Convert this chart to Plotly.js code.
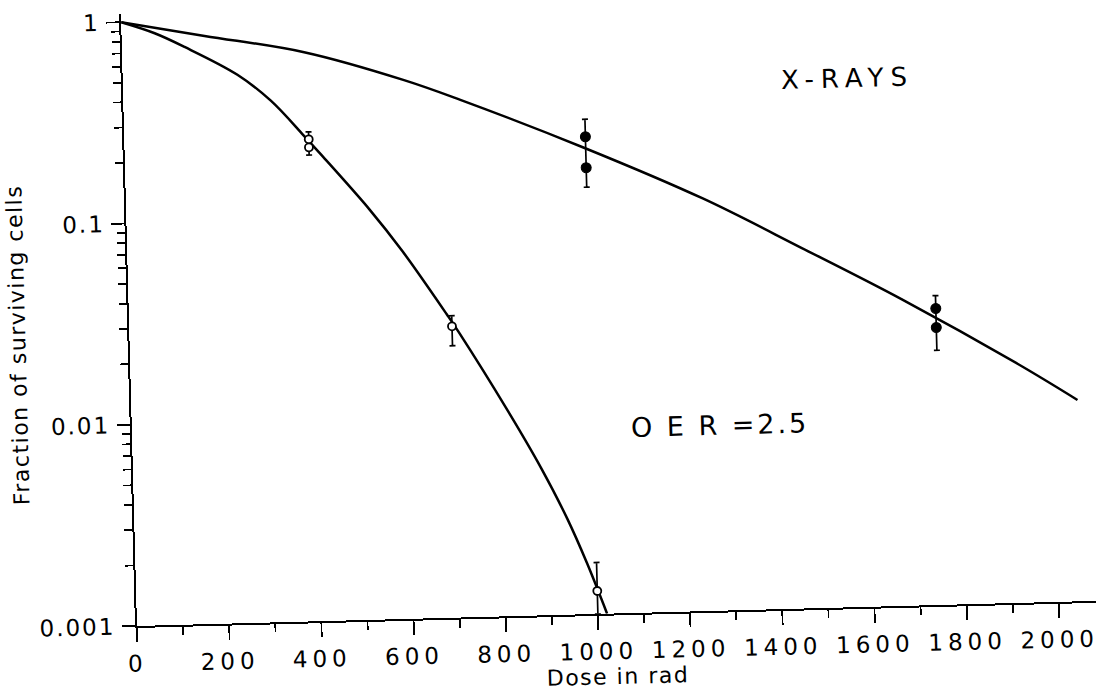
<!DOCTYPE html>
<html>
<head>
<meta charset="utf-8">
<script src="https://cdn.plot.ly/plotly-3.0.1.min.js"></script>
<style>
  html, body { margin: 0; padding: 0; background: #fff; overflow: hidden; width: 1107px; height: 692px; }
  #chart { width: 1107px; height: 730px; transform-origin: 136.5px 626.5px; transform: rotate(-1.5deg); }
  .annotation[data-index="0"] text { letter-spacing: 7px; }
  .annotation[data-index="1"] text { letter-spacing: 3px; }
  .xtick text { letter-spacing: 5px; }
  .ytick text { letter-spacing: 2px; }
  .g-xtitle text, .g-ytitle text { letter-spacing: 1.5px; }
  .g-ytitle { transform: translateY(22px); }
</style>
</head>
<body>
<div id="chart"></div>
<script>
// ---- data ----
const oxicDose = [400, 400, 700, 1000];
const oxicSurv = [0.248, 0.226, 0.028, 0.0013];
const oxicErrUp = [0.022, 0, 0.0036, 0.0005];
const oxicErrDown = [0.041, 0, 0.0056, 0.0003];

const hypoxDose = [1000, 1000, 1750, 1750];
const hypoxSurv = [0.235, 0.165, 0.0297, 0.0239];
const hypoxErrUp = [0.052, 0, 0.0047, 0];
const hypoxErrDown = [0.103, 0, 0.0113, 0];

const oxicCurveDose = [0, 72, 136, 249, 320, 389, 427, 528, 597, 690, 714, 817, 885, 939, 979, 1020];
const oxicCurveSurv = [1, 0.873, 0.74, 0.53, 0.39, 0.26, 0.206, 0.109, 0.067, 0.032, 0.0262, 0.0104, 0.0054, 0.0030, 0.0018, 0.001];

const hypoxCurveDose = [0, 180, 395, 610, 731, 995, 1251, 1463, 1676, 1924, 2052];
const hypoxCurveSurv = [1, 0.834, 0.672, 0.474, 0.372, 0.208, 0.112, 0.0617, 0.0334, 0.0154, 0.0100];

const xTickVals = [0, 200, 400, 600, 800, 1000, 1200, 1400, 1600, 1800, 2000];
const xTickText = ['0', '200', '400', '600', '800', '1000', '1200', '1400', '1600', '1800', '2000'];
const yTickVals = [0.001, 0.01, 0.1, 1];
const yTickText = ['0.001', '0.01', '0.1', '1'];

const labelXRays = 'X-RAYS';
const labelOER = 'O E R =2.5';
const xTitle = 'Dose in rad';
const yTitle = 'Fraction of surviving cells';

const FONT = 'DejaVu Sans';

const traces = [
  {
    x: oxicCurveDose, y: oxicCurveSurv, mode: 'lines', type: 'scatter',
    line: { color: '#000', width: 2.5, shape: 'spline', smoothing: 1.0 },
    hoverinfo: 'skip', showlegend: false
  },
  {
    x: hypoxCurveDose, y: hypoxCurveSurv, mode: 'lines', type: 'scatter',
    line: { color: '#000', width: 2.5, shape: 'spline', smoothing: 1.0 },
    hoverinfo: 'skip', showlegend: false
  },
  {
    x: oxicDose, y: oxicSurv, mode: 'markers', type: 'scatter',
    marker: { symbol: 'circle', size: 8, color: '#fff', line: { color: '#000', width: 1.8 } },
    error_y: { type: 'data', symmetric: false, array: oxicErrUp, arrayminus: oxicErrDown,
               color: '#000', thickness: 1.7, width: 3 },
    showlegend: false
  },
  {
    x: hypoxDose, y: hypoxSurv, mode: 'markers', type: 'scatter',
    marker: { symbol: 'circle', size: 10, color: '#000', line: { color: '#000', width: 1 } },
    error_y: { type: 'data', symmetric: false, array: hypoxErrUp, arrayminus: hypoxErrDown,
               color: '#000', thickness: 1.7, width: 3 },
    showlegend: false
  }
];

const layout = {
  width: 1107, height: 730,
  margin: { l: 136.5, r: 10.5, t: 13.5, b: 103.5, pad: 0 },
  paper_bgcolor: '#fff', plot_bgcolor: '#fff',
  font: { family: FONT, color: '#000', size: 22 },
  showlegend: false,
  xaxis: {
    type: 'linear', range: [0, 2080],
    tickmode: 'array', tickvals: xTickVals, ticktext: xTickText,
    ticks: 'outside', ticklen: 14, tickwidth: 1.8, tickcolor: '#000',
    minor: { dtick: 100, tick0: 0, ticks: 'outside', ticklen: 8, tickwidth: 1.8, tickcolor: '#000', showgrid: false },
    showline: true, linecolor: '#000', linewidth: 2,
    showgrid: false, zeroline: false, mirror: false,
    tickfont: { family: FONT, size: 23, color: '#000' },
    ticklabelstandoff: 2,
    title: { text: xTitle, font: { family: FONT, size: 22, color: '#000' }, standoff: 2 }
  },
  yaxis: {
    type: 'log', range: [-3, 0.04],
    tickmode: 'array', tickvals: yTickVals, ticktext: yTickText,
    ticks: 'outside', ticklen: 13, tickwidth: 1.8, tickcolor: '#000',
    minor: { dtick: 'D1', ticks: 'outside', ticklen: 8, tickwidth: 1.8, tickcolor: '#000', showgrid: false },
    showline: true, linecolor: '#000', linewidth: 2,
    showgrid: false, zeroline: false, mirror: false,
    tickfont: { family: FONT, size: 23, color: '#000' },
    ticklabelstandoff: 2,
    title: { text: yTitle, font: { family: FONT, size: 22, color: '#000' }, standoff: 0 }
  },
  annotations: [
    { x: 1572, y: -0.374, xref: 'x', yref: 'y', text: labelXRays, showarrow: false,
      font: { family: FONT, size: 26, color: '#000' }, xanchor: 'center', yanchor: 'middle' },
    { x: 1275, y: -2.077, xref: 'x', yref: 'y', text: labelOER, showarrow: false,
      font: { family: FONT, size: 27, color: '#000' }, xanchor: 'center', yanchor: 'middle' }
  ]
};

Plotly.newPlot('chart', traces, layout, { staticPlot: true, displayModeBar: false });
</script>
</body>
</html>
